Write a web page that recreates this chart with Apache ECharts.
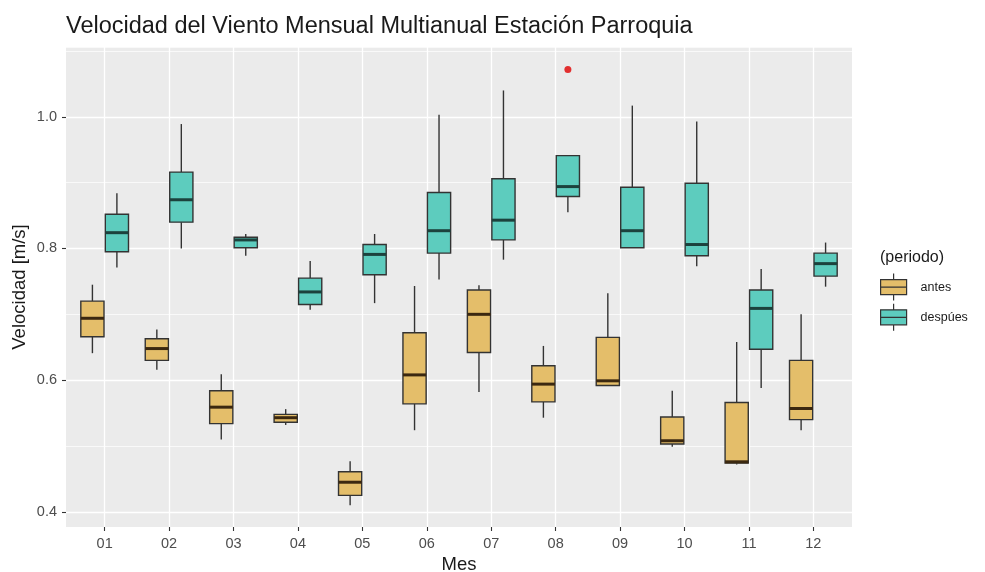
<!DOCTYPE html>
<html><head><meta charset="utf-8">
<script src="https://cdn.jsdelivr.net/npm/echarts@6/dist/echarts.min.js"></script>
<style>html,body{margin:0;padding:0;background:#fff}#c{width:985px;height:572px}</style>
</head><body><div id="c"></div>
<script>
const months = ['01','02','03','04','05','06','07','08','09','10','11','12'];
const antesMin    = [0.641,0.616,0.510,0.532,0.410,0.524,0.582,0.543,0.592,0.499,0.472,0.524];
const antesQ1     = [0.666,0.630,0.534,0.536,0.425,0.564,0.642,0.567,0.592,0.503,0.474,0.540];
const antesMedian = [0.694,0.648,0.559,0.543,0.445,0.608,0.700,0.594,0.599,0.508,0.476,0.557];
const antesQ3     = [0.720,0.663,0.584,0.548,0.461,0.672,0.737,0.622,0.665,0.544,0.566,0.630];
const antesMax    = [0.745,0.677,0.609,0.556,0.477,0.743,0.744,0.652,0.732,0.584,0.658,0.700];
const despuesMin    = [0.771,0.800,0.789,0.707,0.717,0.753,0.783,0.855,0.801,0.773,0.588,0.742];
const despuesQ1     = [0.795,0.840,0.801,0.715,0.760,0.793,0.813,0.879,0.801,0.789,0.647,0.758];
const despuesMedian = [0.824,0.874,0.813,0.734,0.791,0.827,0.843,0.894,0.827,0.806,0.709,0.777];
const despuesQ3     = [0.852,0.916,0.817,0.755,0.806,0.885,0.906,0.941,0.893,0.899,0.737,0.793];
const despuesMax    = [0.884,0.989,0.822,0.781,0.822,1.003,1.040,0.941,1.017,0.993,0.769,0.809];
const outlierMonth = ['08'];
const outlierValue = [1.072];
const yTicks = [0.4, 0.6, 0.8, 1.0];

const FONT = '"Liberation Sans", Arial, sans-serif';
const ANTES = '#E4BE6A';
const DESPUES = '#5DCCBE';
const EDGE = '#333333';
const BOX_W = 0.36, DODGE = 0.19;

function boxRenderer(offset, fill, medianColor) {
  return function (params, api) {
    const x = api.value(0) + offset;
    const pLo = api.coord([x, api.value(1)]);
    const pQ1 = api.coord([x, api.value(2)]);
    const pMd = api.coord([x, api.value(3)]);
    const pQ3 = api.coord([x, api.value(4)]);
    const pHi = api.coord([x, api.value(5)]);
    const half = api.size([BOX_W, 0])[0] / 2;
    const cx = pLo[0];
    return {
      type: 'group',
      children: [
        {type: 'line', shape: {x1: cx, y1: pHi[1], x2: cx, y2: pQ3[1]}, style: {stroke: EDGE, lineWidth: 1.4}},
        {type: 'line', shape: {x1: cx, y1: pQ1[1], x2: cx, y2: pLo[1]}, style: {stroke: EDGE, lineWidth: 1.4}},
        {type: 'rect', shape: {x: cx - half, y: pQ3[1], width: 2 * half, height: pQ1[1] - pQ3[1]},
          style: {fill: fill, stroke: EDGE, lineWidth: 1.4}},
        {type: 'line', shape: {x1: cx - half, y1: pMd[1], x2: cx + half, y2: pMd[1]},
          style: {stroke: medianColor, lineWidth: 3}}
      ]
    };
  };
}

const antesData = months.map((m, i) => [i + 1, antesMin[i], antesQ1[i], antesMedian[i], antesQ3[i], antesMax[i]]);
const despuesData = months.map((m, i) => [i + 1, despuesMin[i], despuesQ1[i], despuesMedian[i], despuesQ3[i], despuesMax[i]]);
const outlierData = outlierMonth.map((m, i) => [months.indexOf(m) + 1 + DODGE, outlierValue[i]]);

const KEY = 'path://M13,0 L13,6 M0,6 L26,6 L26,21 L0,21 Z M0,13.5 L26,13.5 M13,21 L13,27';

const chart = echarts.init(document.getElementById('c'), null, {renderer: 'canvas'});
chart.setOption({
  animation: false,
  backgroundColor: '#ffffff',
  textStyle: {fontFamily: FONT},
  title: [
    {text: 'Velocidad del Viento Mensual Multianual Estación Parroquia', left: 66, top: 15, padding: 0,
      textStyle: {fontFamily: FONT, fontSize: 23.5, fontWeight: 'normal', color: '#1a1a1a'}},
    {text: '(periodo)', left: 880, top: 250, padding: 0,
      textStyle: {fontFamily: FONT, fontSize: 16, fontWeight: 'normal', color: '#1a1a1a'}}
  ],
  legend: {
    orient: 'vertical', left: 880, top: 273, padding: 0,
    itemWidth: 26, itemHeight: 27, itemGap: 2,
    textStyle: {fontFamily: FONT, fontSize: 12.5, color: '#1a1a1a', padding: [0, 0, 0, 9]},
    data: [
      {name: 'antes', icon: KEY, itemStyle: {color: ANTES, borderColor: EDGE, borderWidth: 1.2}},
      {name: 'despúes', icon: KEY, itemStyle: {color: DESPUES, borderColor: EDGE, borderWidth: 1.2}}
    ]
  },
  grid: {left: 66, right: 133, top: 47, bottom: 45, show: true, backgroundColor: '#EBEBEB', borderWidth: 0,
    containLabel: false, outerBoundsMode: 'none'},
  xAxis: {
    type: 'value', min: 0.4, max: 12.6, splitNumber: 12,
    name: 'Mes', nameLocation: 'middle', nameGap: 28,
    nameTextStyle: {fontFamily: FONT, fontSize: 18.5, color: '#1a1a1a'},
    axisLine: {show: false},
    axisTick: {show: true, length: 4, lineStyle: {color: '#333333', width: 1.1}, customValues: months.map((m, i) => i + 1)},
    axisLabel: {
      customValues: months.map((m, i) => i + 1),
      formatter: v => (Number.isInteger(v) && v >= 1 && v <= months.length) ? months[v - 1] : '',
      fontFamily: FONT, fontSize: 14.5, color: '#4D4D4D', margin: 9
    },
    splitLine: {show: true, lineStyle: {color: '#ffffff', width: 1.3}}
  },
  yAxis: [
    {
      type: 'value', min: 0.377, max: 1.106, splitNumber: 4,
      name: 'Velocidad [m/s]', nameLocation: 'middle', nameGap: 37, nameRotate: 90, nameMoveOverlap: false,
      nameTextStyle: {fontFamily: FONT, fontSize: 18.5, color: '#1a1a1a'},
      axisLine: {show: false},
      axisTick: {show: true, length: 4, lineStyle: {color: '#333333', width: 1.1}, customValues: yTicks},
      axisLabel: {customValues: yTicks,
        formatter: v => v.toFixed(1), fontFamily: FONT, fontSize: 14.5, color: '#4D4D4D', margin: 9},
      splitLine: {show: true, lineStyle: {color: '#ffffff', width: 1.3}}
    },
    {
      type: 'value', min: 0.377, max: 1.106, splitNumber: 7, position: 'left',
      axisLine: {show: false}, axisTick: {show: false}, axisLabel: {show: false},
      splitLine: {show: true, lineStyle: {color: '#ffffff', width: 0.7}}
    }
  ],
  series: [
    {type: 'custom', name: 'antes', renderItem: boxRenderer(-DODGE, ANTES, '#3b2810'),
      data: antesData, encode: {x: 0, y: [1, 2, 3, 4, 5]}, itemStyle: {color: ANTES}, silent: true},
    {type: 'custom', name: 'despúes', renderItem: boxRenderer(DODGE, DESPUES, '#1c423d'),
      data: despuesData, encode: {x: 0, y: [1, 2, 3, 4, 5]}, itemStyle: {color: DESPUES}, silent: true},
    {type: 'scatter', name: 'outlier', data: outlierData, symbolSize: 7,
      itemStyle: {color: '#E00000'}, silent: true}
  ]
});
</script>
</body></html>
